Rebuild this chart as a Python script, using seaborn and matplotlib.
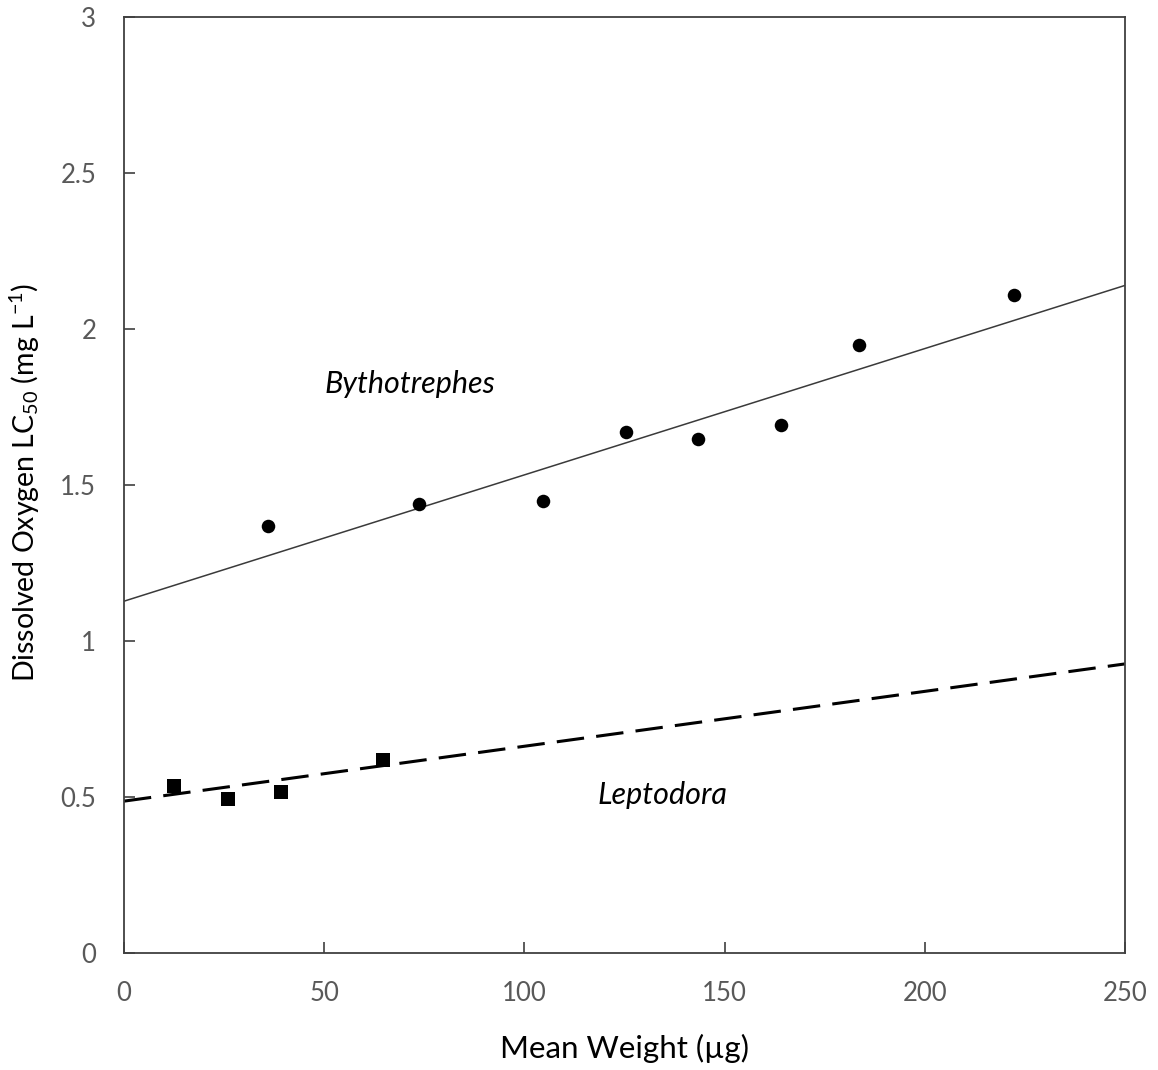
import numpy as np
import pandas as pd
import matplotlib
matplotlib.use("Agg")
import matplotlib.pyplot as plt
import seaborn as sns

# ---- data ----
byth_weight = [35.9, 73.7, 104.6, 125.5, 143.4, 164.1, 183.6, 222.3]
byth_lc50 = [1.370, 1.440, 1.450, 1.671, 1.649, 1.692, 1.950, 2.111]
lept_weight = [12.5, 25.9, 39.2, 64.8]
lept_lc50 = [0.537, 0.495, 0.517, 0.619]
# fitted regression lines (intercept, slope)
byth_fit = (1.128, 0.00405)
lept_fit = (0.487, 0.00176)
fit_range = [0, 250]
x_ticks = [0, 50, 100, 150, 200, 250]
y_ticks = [0, 0.5, 1, 1.5, 2, 2.5, 3]

sns.set_theme(style="white")
plt.rcParams['font.family'] = ['Lato', 'DejaVu Sans']
plt.rcParams['mathtext.fontset'] = 'custom'
plt.rcParams['mathtext.rm'] = 'Lato'
plt.rcParams['mathtext.it'] = 'Lato:italic'

fig = plt.figure(figsize=(11.58, 10.70), dpi=100)
ax = fig.add_axes([0.107, 0.1093, 0.8645, 0.8745])

byth_df = pd.DataFrame({"w": byth_weight, "y": byth_lc50})
lept_df = pd.DataFrame({"w": lept_weight, "y": lept_lc50})
fx = np.array(fit_range, dtype=float)
byth_line = pd.DataFrame({"w": fx, "y": byth_fit[0] + byth_fit[1] * fx})
lept_line = pd.DataFrame({"w": fx, "y": lept_fit[0] + lept_fit[1] * fx})

sns.lineplot(data=byth_line, x="w", y="y", ax=ax, color="#3a3a3a", linewidth=1.1)
sns.lineplot(data=lept_line, x="w", y="y", ax=ax, color="black", linewidth=2.2,
             dashes=False)
ax.lines[-1].set_dashes([9, 4])
sns.scatterplot(data=byth_df, x="w", y="y", ax=ax, marker="o", s=95,
                color="black", edgecolor="black", linewidth=0, zorder=3)
sns.scatterplot(data=lept_df, x="w", y="y", ax=ax, marker="s", s=95,
                color="black", edgecolor="black", linewidth=0, zorder=3)

ax.text(71.4, 1.825, "Bythotrephes", style="italic", fontsize=22,
        ha="center", va="center", color="black")
ax.text(134.6, 0.507, "Leptodora", style="italic", fontsize=22,
        ha="center", va="center", color="black")

ax.set_xlim(0, 250)
ax.set_ylim(0, 3)
ax.set_xticks(x_ticks)
ax.set_yticks(y_ticks)
ax.set_xticklabels([str(v) for v in x_ticks])
ax.set_yticklabels([f"{v:g}" for v in y_ticks])
ax.tick_params(axis="both", direction="in", length=8, width=1.2,
               color="#404040", labelcolor="#595959", labelsize=18.5,
               bottom=True, left=True, top=False, right=False)
ax.tick_params(axis="x", pad=20)
ax.tick_params(axis="y", pad=20)
for sp in ax.spines.values():
    sp.set_visible(True)
    sp.set_color("#404040")
    sp.set_linewidth(1.3)

ax.set_xlabel("Mean Weight (µg)", fontsize=22.5, color="black")
ax.set_ylabel(r"Dissolved Oxygen LC$_{50}$ (mg L$^{-1}$)", fontsize=20.5,
              color="black")
ax.xaxis.set_label_coords(0.5, -0.1015)
ax.xaxis.label.set_va("center")
ax.yaxis.set_label_coords(-0.099, 0.503)
ax.yaxis.label.set_va("center")

fig.savefig("out.png", dpi=100)
